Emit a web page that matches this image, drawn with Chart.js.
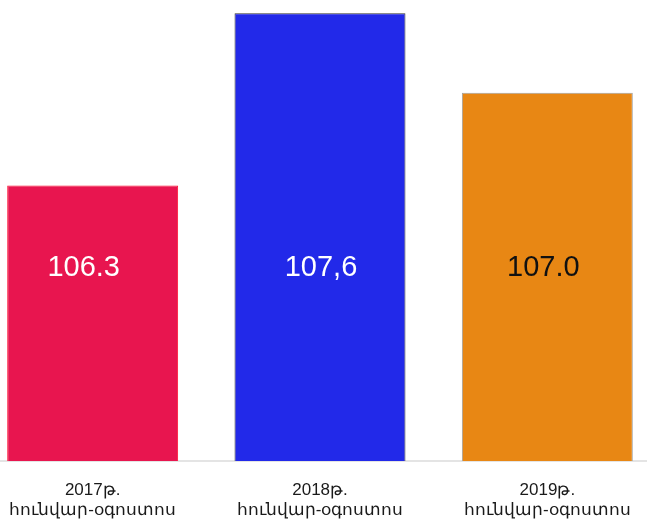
<!DOCTYPE html>
<html>
<head>
<meta charset="utf-8">
<script src="https://cdn.jsdelivr.net/npm/chart.js@4"></script>
<style>
  html, body { margin: 0; padding: 0; background: #fff; overflow: hidden; }
  #wrap { width: 682px; height: 520px; margin-left: -21px; }
</style>
</head>
<body>
<div id="wrap"><canvas id="myChart" width="682" height="520"></canvas></div>
<script>
const years = ['2017թ.', '2018թ.', '2019թ.']
const period = 'հունվար-օգոստոս'
const values = [106.3, 107.6, 107.0]
const valueLabels = ['106.3', '107,6', '107.0']
const fillColors = ['#e8154f', '#2229e9', '#e88714']
const borderColors = ['#ff1133', '#333333', '#a0a0a0']
const labelColors = ['#ffffff', '#ffffff', '#111111']
const labelShift = [-9, 1, -4]

const insideLabels = {
  id: 'insideLabels',
  afterDatasetsDraw(chart) {
    const ctx = chart.ctx
    const meta = chart.getDatasetMeta(0)
    const yMid = chart.scales.y.getPixelForValue(105.68)
    ctx.save()
    ctx.font = '29px Arial, "Liberation Sans", sans-serif'
    ctx.textAlign = 'center'
    ctx.textBaseline = 'middle'
    meta.data.forEach((bar, i) => {
      ctx.fillStyle = labelColors[i]
      ctx.fillText(valueLabels[i], bar.x + labelShift[i], yMid)
    })
    ctx.restore()
  }
}

const ctx = document.getElementById('myChart')

new Chart(ctx, {
  type: 'bar',
  data: {
    labels: years.map(y => [y, period]),
    datasets: [{
      data: values,
      backgroundColor: fillColors,
      borderColor: borderColors,
      borderWidth: 1,
      borderSkipped: false,
      barPercentage: 0.752,
      categoryPercentage: 1
    }]
  },
  options: {
    responsive: false,
    animation: false,
    layout: { padding: 0 },
    plugins: {
      legend: { display: false },
      tooltip: { enabled: false }
    },
    scales: {
      x: {
        grid: { display: false, drawTicks: false },
        border: { color: '#e4e4e4', width: 2 },
        ticks: {
          color: '#1a1a1a',
          padding: 19,
          font: { family: 'Arial, "Liberation Sans", "Noto Sans", sans-serif', size: 17 }
        },
        afterFit(scale) { scale.height = 59 }
      },
      y: {
        display: false,
        min: 104.22,
        max: 107.7
      }
    }
  },
  plugins: [insideLabels]
})
</script>
</body>
</html>
